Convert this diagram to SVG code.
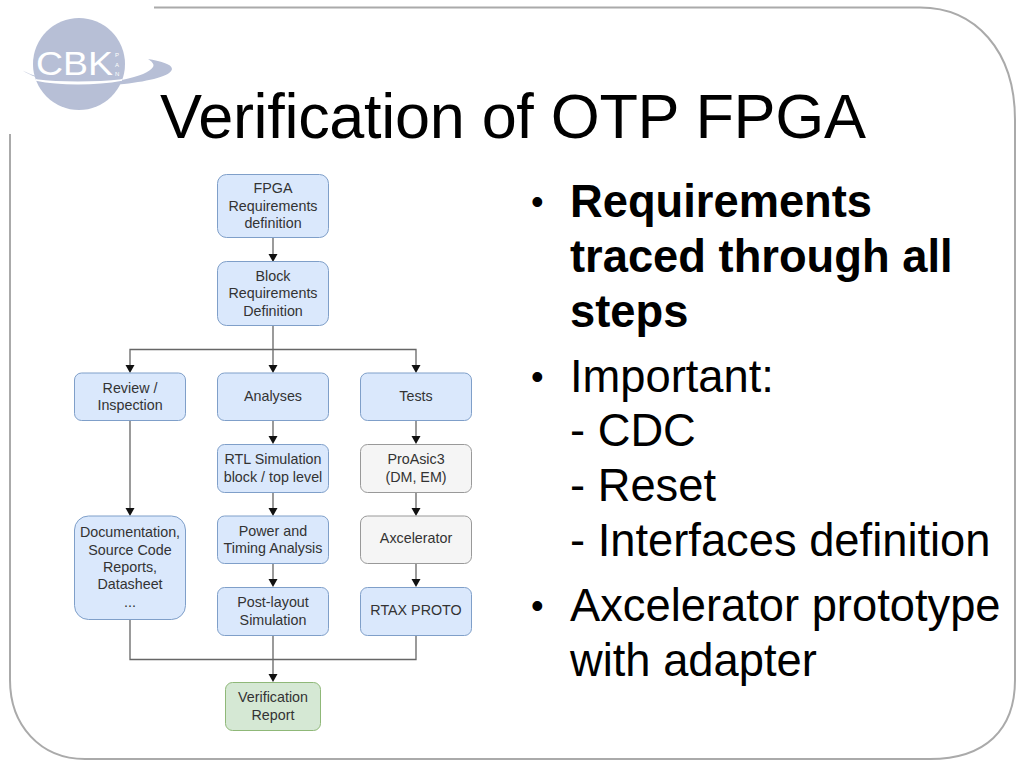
<svg xmlns="http://www.w3.org/2000/svg" width="1024" height="768" viewBox="0 0 1024 768">
<style>
text{font-family:"Liberation Sans",Arial,sans-serif}
.b rect{fill:#dae8fc;stroke:#7f9fc9;stroke-width:1}
.w rect{fill:#f5f5f5;stroke:#999;stroke-width:1}
.g rect{fill:#d5e8d4;stroke:#8fb878;stroke-width:1}
.n text{font-size:14.3px;fill:#333;text-anchor:middle}
.c path{fill:none;stroke:#666;stroke-width:1.3}
.c polygon{fill:#111}
.t{font-size:45.3px;fill:#000}
.bd{font-weight:bold}
.bu{font-size:36px}
</style>
<rect width="1024" height="768" fill="#fff"/>
<g id="frame" fill="none" stroke="#aaa" stroke-width="2">
<path d="M154 7.500H920C975 7.500 1015 50 1015 120V680C1015 730 985 759 930 759H85C40 759 10 725 10 680V134"/>
</g>
<g id="logo">
<circle cx="79" cy="64" r="46" fill="#b7bfd6"/>
<path d="M22.500 70.500C32 76 38 78 46 80L122 80C140 76 150 72 153 67C155 64 151 61 148 59C160 61 172 64 172 69C171 76 150 81 124 84C95 87 50 85 22.500 70.500Z" fill="#b7bfd6"/>
<path d="M36 80C60 85 95 85 122 80C95 83 60 83 36 80Z" fill="#fff" stroke="#fff" stroke-width="1.500"/>
<text x="36" y="75" font-size="33" fill="#fff" textLength="77" lengthAdjust="spacingAndGlyphs">CBK</text>
<text font-size="6" fill="#fff" x="115" y="57">P</text>
<text font-size="6" fill="#fff" x="115" y="67">A</text>
<text font-size="6" fill="#fff" x="115" y="76">N</text>
</g>
<text id="title" x="160" y="138" font-size="63" fill="#000" textLength="706">Verification of OTP FPGA</text>
<g id="connectors" class="c">
<path d="M273 238V256M273 326V368M130 368V349.500H416V368M130 421V511M273 421V439M273 493V511M273 564V582M416 421V439M416 493V511M416 564V582M130 620V659.500H416V636M273 636V677"/>
<polygon points="268.500,254 277.500,254 273,262"/>
<polygon points="125.500,365 134.500,365 130,373"/>
<polygon points="268.500,365 277.500,365 273,373"/>
<polygon points="411.500,365 420.500,365 416,373"/>
<polygon points="125.500,508 134.500,508 130,516"/>
<polygon points="268.500,436 277.500,436 273,444"/>
<polygon points="268.500,508 277.500,508 273,516"/>
<polygon points="268.500,579 277.500,579 273,587"/>
<polygon points="411.500,436 420.500,436 416,444"/>
<polygon points="411.500,508 420.500,508 416,516"/>
<polygon points="411.500,579 420.500,579 416,587"/>
<polygon points="268.500,674 277.500,674 273,682"/>
</g>
<g id="n1" class="n b"><rect x="217.500" y="174.500" width="111" height="63" rx="9"/><text x="273" y="193">FPGA</text><text x="273" y="210.500">Requirements</text><text x="273" y="228">definition</text></g>
<g id="n2" class="n b"><rect x="217.500" y="261.500" width="111" height="64" rx="9"/><text x="273" y="280.500">Block</text><text x="273" y="298">Requirements</text><text x="273" y="315.500">Definition</text></g>
<g id="n3" class="n b"><rect x="74.500" y="373" width="111" height="47.500" rx="7"/><text x="130" y="392.500">Review /</text><text x="130" y="410">Inspection</text></g>
<g id="n4" class="n b"><rect x="217.500" y="373" width="111" height="47.500" rx="7"/><text x="273" y="400.500">Analyses</text></g>
<g id="n5" class="n b"><rect x="360.500" y="373" width="111" height="47.500" rx="7"/><text x="416" y="400.500">Tests</text></g>
<g id="n6" class="n b"><rect x="217.500" y="444.500" width="111" height="48" rx="7"/><text x="273" y="464">RTL Simulation</text><text x="273" y="481.500">block / top level</text></g>
<g id="n7" class="n w"><rect x="360.500" y="444.500" width="111" height="48" rx="7"/><text x="416" y="464">ProAsic3</text><text x="416" y="481.500">(DM, EM)</text></g>
<g id="n8" class="n b"><rect x="74.500" y="516" width="111" height="103.500" rx="14"/><text x="130" y="537">Documentation,</text><text x="130" y="554.500">Source Code</text><text x="130" y="572">Reports,</text><text x="130" y="589">Datasheet</text><text x="130" y="607">...</text></g>
<g id="n9" class="n b"><rect x="217.500" y="516" width="111" height="47.500" rx="7"/><text x="273" y="535.500">Power and</text><text x="273" y="553">Timing Analysis</text></g>
<g id="n10" class="n w"><rect x="360.500" y="516" width="111" height="47.500" rx="7"/><text x="416" y="543">Axcelerator</text></g>
<g id="n11" class="n b"><rect x="217.500" y="587.500" width="111" height="48" rx="7"/><text x="273" y="607">Post-layout</text><text x="273" y="624.500">Simulation</text></g>
<g id="n12" class="n b"><rect x="360.500" y="587.500" width="111" height="48" rx="7"/><text x="416" y="615">RTAX PROTO</text></g>
<g id="n13" class="n g"><rect x="225.500" y="682.500" width="95" height="48" rx="7"/><text x="273" y="702">Verification</text><text x="273" y="720">Report</text></g>
<g id="bullets" class="t">
<text x="531" y="214" class="bu">•</text>
<text x="570" y="217" class="bd">Requirements</text>
<text x="570" y="272" class="bd">traced through all</text>
<text x="570" y="327" class="bd">steps</text>
<text x="531" y="389" class="bu">•</text>
<text x="570" y="392">Important:</text>
<text x="570" y="446">- CDC</text>
<text x="570" y="501">- Reset</text>
<text x="570" y="556">- Interfaces definition</text>
<text x="531" y="618" class="bu">•</text>
<text x="570" y="621">Axcelerator prototype</text>
<text x="570" y="676">with adapter</text>
</g>
</svg>
